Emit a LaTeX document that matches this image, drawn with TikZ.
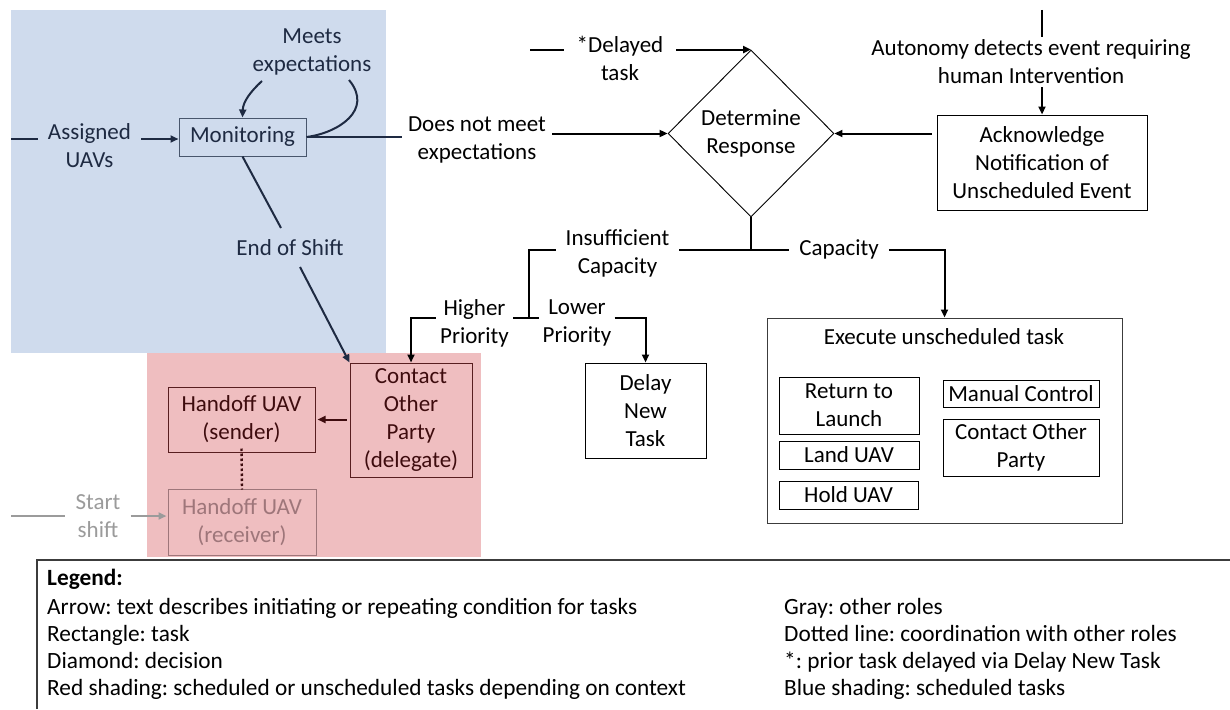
\documentclass[tikz,border=0pt]{standalone}
\usepackage{fontspec}
\setmainfont{Carlito}
\usetikzlibrary{shapes.geometric,arrows.meta,calc}

\definecolor{schedblue}{RGB}{207,219,237}
\definecolor{ctxred}{RGB}{239,190,192}
\definecolor{navy}{RGB}{30,42,66}
\definecolor{navyedge}{RGB}{72,86,108}
\definecolor{maroon}{RGB}{62,12,14}
\definecolor{maroonedge}{RGB}{88,30,32}
\definecolor{rolegray}{RGB}{155,155,155}
\definecolor{rolerose}{RGB}{158,118,122}
\definecolor{legendline}{RGB}{60,60,60}

\tikzset{
  x=1pt, y=-1pt,
  every node/.style={font=\fontsize{23}{28}\selectfont\frenchspacing, align=center},
  task/.style={draw, line width=1pt, inner sep=0pt},
  cond/.style={inner xsep=10pt, inner ysep=3pt},
  flow/.style={line width=2pt},
  arr/.style={flow, -{Triangle[length=8pt,width=7pt]}},
  legtext/.style={anchor=base west, inner sep=0pt, font=\fontsize{23.3}{27}\selectfont\frenchspacing},
}

\begin{document}
\begin{tikzpicture}
\useasboundingbox (0,0) rectangle (1230,709);

% shaded role regions
\fill[schedblue] (11,10) rectangle (386,353);
\fill[ctxred] (147,353) rectangle (481,557);

% ---- task boxes ----
\node[task, draw=navyedge, fill=schedblue, text=navy, minimum width=127pt, minimum height=38pt] (mon) at (242.5,137) {Monitoring};
\node[draw, diamond, line width=0.9pt, inner sep=0pt, minimum width=166pt, minimum height=167pt] (dec) at (751,133.5) {Determine\\Response};
\node[task, minimum width=210pt, minimum height=95pt] (ack) at (1042,162.5) {Acknowledge\\Notification of\\Unscheduled Event};
\node[task, minimum width=121pt, minimum height=95pt] (delay) at (645.5,410.5) {Delay\\New\\Task};
\node[task, draw=maroonedge, text=maroon, minimum width=122pt, minimum height=114pt] (deleg) at (411,420) {Contact\\Other\\Party\\(delegate)};
\node[task, draw=maroonedge, text=maroon, minimum width=147pt, minimum height=65pt] (send) at (241.5,419.5) {Handoff UAV\\(sender)};
\node[task, draw=rolerose, text=rolerose, minimum width=148pt, minimum height=66pt] (recv) at (242,522) {Handoff UAV\\(receiver)};

% unscheduled task group
\node[task, draw=legendline, minimum width=355pt, minimum height=205pt] (exec) at (944.5,420.5) {};
\node (exectitle) at (944,337) {Execute unscheduled task};
\node[task, minimum width=140pt, minimum height=57pt] (rtl) at (849,405.5) {Return to\\Launch};
\node[task, minimum width=140pt, minimum height=28pt] (land) at (849,455) {Land UAV};
\node[task, minimum width=139pt, minimum height=28pt] (hold) at (848.5,495) {Hold UAV};
\node[task, minimum width=156pt, minimum height=27pt] (manual) at (1021,393.5) {Manual Control};
\node[task, minimum width=156pt, minimum height=57pt] (cop) at (1021,447.5) {Contact Other\\Party};

% ---- condition labels ----
\node[cond, text=navy] (assigned) at (89.5,146) {Assigned\\UAVs};
\node[cond, text=navy] (meets) at (312,52) {Meets\\expectations};
\node[cond, text=navy] (endshift) at (290,248) {End of Shift};
\node[cond, inner xsep=6pt] (dnm) at (477,140) {Does not meet\\expectations};
\node[cond, inner xsep=13pt] (delayed) at (620,58) {*Delayed\\task};
\node[cond] (auto) at (1031,62) {Autonomy detects event requiring\\human Intervention};
\node[cond] (insuff) at (617.5,253) {Insufficient\\Capacity};
\node[cond] (cap) at (839,249) {Capacity};
\node[cond, inner xsep=4pt] (higher) at (474.5,323) {Higher\\Priority};
\node[cond, inner xsep=3pt] (lower) at (577,323) {Lower\\Priority};
\node[cond, text=rolegray] (start) at (98,516) {Start\\shift};

% free ends and routing points
\coordinate (aIn) at (11,139);
\coordinate (dIn) at (530,50);
\coordinate (evt) at (1041.5,10);
\coordinate (mL) at (262,81);
\coordinate (mR) at (349,80);
\coordinate (eA) at (281,228);
\coordinate (eB) at (300,267);
\coordinate (split) at (751,250);
\coordinate (branch) at (529,318);
\coordinate (sIn) at (11,516);

% ---- connectors ----
\draw[flow, navy] (aIn) -- (aIn -| assigned.west);
\draw[arr, navy] (assigned.east |- aIn) -- (mon.west |- aIn);
\draw[flow, navy] (mon.east) .. controls (338,133) and (374,110) .. (mR);
\draw[arr, navy] (mL) .. controls (250,92) and (243,102) .. (mon.north);
\draw[flow, navy] (mon.east) -- (dnm.west |- mon.east);
\draw[arr] (dnm.east |- dec.west) -- (dec.west);
\draw[flow, navy] (mon.south) -- (eA);
\draw[arr, navy] (eB) -- (deleg.north west);

\draw[flow] (dIn) -- (dIn -| delayed.west);
\draw[arr] (delayed.east |- dec.north) -- (dec.north);

\draw[flow] (evt) -- (evt |- auto.north);
\draw[arr] (auto.south -| ack.north) -- (ack.north);
\draw[arr] ([xshift=-5pt]ack.west |- dec.east) -- (dec.east);

\draw[flow] (dec.south) -- (split);
\draw[flow] (insuff.east |- split) -- (cap.west |- split);
\draw[arr] (cap.east |- split) -| (exec.north);
\draw[flow] (insuff.west |- split) -| (branch);
\draw[flow] (higher.east |- branch) -- (lower.west |- branch);
\draw[arr] (higher.west |- branch) -| (deleg.north);
\draw[arr] (lower.east |- branch) -| (delay.north);

\draw[arr, maroon] ([xshift=-3pt]deleg.west |- send.east) -- ([xshift=2pt]send.east);
\draw[maroon, line width=2.4pt, dash pattern=on 2.5pt off 2.5pt] ([yshift=4pt]send.south) -- ([yshift=-1pt]recv.north);

\draw[flow, rolegray] (sIn) -- (sIn -| start.west);
\draw[arr, rolegray] (start.east |- sIn) -- ([xshift=-1pt]recv.west |- sIn);

% ---- legend ----
\coordinate (lgCorner) at (37,560);
\draw[legendline, line width=1.2pt] (37,709) -- (lgCorner) -- (1230,560);
\node[legtext] (lg0) at (47,585) {\textbf{Legend:}};
\node[legtext] (lg1) at (47,614) {Arrow: text describes initiating or repeating condition for tasks};
\node[legtext] (lg2) at (47,641) {Rectangle: task};
\node[legtext] (lg3) at (47,668) {Diamond: decision};
\node[legtext] (lg4) at (47,695) {Red shading: scheduled or unscheduled tasks depending on context};
\node[legtext] (lg5) at (784,614) {Gray: other roles};
\node[legtext] (lg6) at (784,641) {Dotted line: coordination with other roles};
\node[legtext] (lg7) at (784,668) {*: prior task delayed via Delay New Task};
\node[legtext] (lg8) at (784,695) {Blue shading: scheduled tasks};
\end{tikzpicture}
\end{document}
